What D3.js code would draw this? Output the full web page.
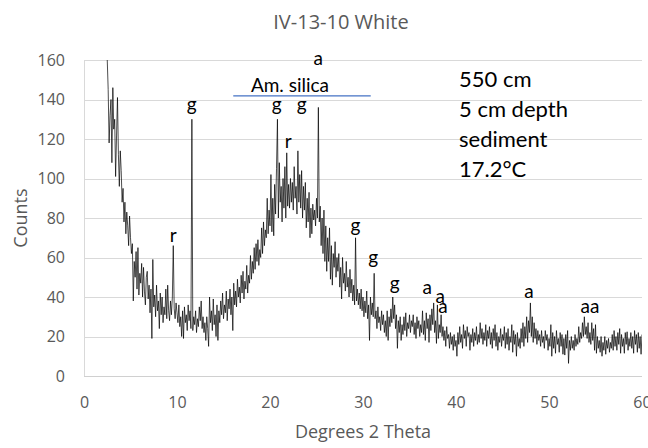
<!DOCTYPE html>
<html><head><meta charset="utf-8">
<script src="https://cdn.jsdelivr.net/npm/d3@7/dist/d3.min.js"></script>
<style>body{margin:0;background:#fff} svg{display:block}</style>
</head><body><svg id="c" width="648" height="448"></svg>
<script>
// ---- data (counts every 0.1 degree 2-theta, starting at 2.4) ----
const thetaStart = 2.4, thetaStep = 0.1;
const counts = [
 200,160,145,118,132,140,108,146,125,130,101,122,141,112,96,114,104,88,95,78,
 88,72,83,76,66,81,70,62,67,38,58,50,63,44,65,41,52,47,57,40,
 55,43,36,50,53,39,46,32,44,19,59,35,41,30,46,33,38,24,42,31,
 40,27,35,31,44,29,46,33,28,38,31,40,66,34,29,37,32,27,36,25,
 30,20,33,19,35,27,31,23,36,28,33,24,130,23,30,26,33,22,29,25,
 35,28,38,24,30,22,27,18,30,24,15,40,27,33,23,39,26,31,20,36,
 18,33,27,38,31,42,29,36,32,43,28,39,34,44,31,40,23,47,36,43,
 35,49,40,45,37,51,42,53,39,48,44,56,42,51,47,61,49,58,52,65,
 54,67,58,69,56,64,60,75,62,78,66,74,70,90,72,84,76,102,73,90,
 71,97,82,105,130,80,108,88,96,78,100,85,106,80,113,86,97,85,100,88,
 98,84,106,90,96,82,114,88,102,85,104,80,96,84,98,75,90,78,93,70,
 85,72,87,79,84,76,90,80,136,78,86,66,80,62,84,58,76,53,70,58,
 75,49,66,46,62,55,68,50,60,53,62,45,55,39,60,47,52,43,58,45,
 50,40,54,42,49,38,46,36,70,38,44,36,42,34,44,33,40,30,38,32,
 43,29,36,18,40,31,37,30,52,29,33,24,35,27,30,23,33,26,31,22,
 28,20,33,18,30,25,34,27,40,29,36,24,31,14,28,22,30,18,26,21,
 30,23,32,20,27,24,31,22,28,25,31,21,27,19,30,24,28,20,26,22,
 33,21,28,18,32,24,29,17,31,23,34,26,37,22,28,16.5,36,19,26,22,
 31,20,25,18,23,15,25,19,21,14,22,16,20,13,21,15,18,10,22,16,
 25,17,21,14,26,19,23,15,25,20,22,13,21,17,24,15,22,18,25,16,
 21,17,27,19,24,16,22,18,26,15,23,19,25,16,22,14,24,18,26,15,
 22,13,20,17,24,15,21,18,25,14,22,16,24,13,20,17,26,12,23,16,
 21,10,22,15,19,14,24,17,27,15,25,19,30,17,28,22,37,20,30,17,
 27,19,24,16,23,18,21,15,23,17,20,14,23,18,21,13,19,15,26,10,
 22,14,20,11.5,23,16,19,12,22,15,21,11,19,10.6,21,14,23,6.4,18,13,
 20,14,18,13,21,15,19,16,25,17,22,19,27,20,30,21,25,19,27,17,
 22,16,27,18,24,13,26,11.5,20,14,18,12,20,10,17,13,20,11,18,14,
 19,12,17,14,21,13,23,15,20,13,22,16,24,11.5,21,15,19,11.5,22,16,
 22.4,13,19,15,22,14,20,11.5,23,16,21,12,22,14,20,11,21
];
const xTicks = [0,10,20,30,40,50,60];
const yTicks = [0,20,40,60,80,100,120,140,160];
const peakLabels = ["r","g","g","g","r","a","g","g","g","a","a","a","a","aa"];
const peakTheta  = [9.6,11.58,20.72,23.4,21.97,25.19,29.2,31.1,33.4,36.9,38.3,38.6,47.85,54.4];
const peakCount  = [67.8,134,134,134,115.4,157.5,72.9,56.7,43.5,41.3,37,31.9,39.5,31.9];
const bandLabel = "Am. silica";
const bandTheta = [16.05, 30.83];
const bandCount = 141.8;
const bandLabelPos = [22.15, 143.6];
const infoLines = ["550 cm","5 cm depth","sediment","17.2°C"];
const title = "IV-13-10 White";
const xTitle = "Degrees 2 Theta";
const yTitle = "Counts";

// ---- chart ----
const svg = d3.select("#c");
const L = 84, R = 642, T = 60, B = 376;
const x = d3.scaleLinear().domain([0,60]).range([L,R]);
const y = d3.scaleLinear().domain([0,160]).range([B,T]);
const gray = "#595959";

// gridlines
svg.append("g").selectAll("line").data(yTicks.filter(d=>d>0)).join("line")
  .attr("x1",L).attr("x2",R).attr("y1",d=>Math.round(y(d))+0.5).attr("y2",d=>Math.round(y(d))+0.5)
  .attr("stroke","#d9d9d9").attr("stroke-width",1);
svg.append("line").attr("x1",L).attr("x2",R).attr("y1",B+0.5).attr("y2",B+0.5).attr("stroke","#d0d0d0");
svg.append("line").attr("x1",L+0.5).attr("x2",L+0.5).attr("y1",T).attr("y2",B).attr("stroke","#d9d9d9");

// axes
const ya = svg.append("g").attr("transform",`translate(${L},0)`)
  .call(d3.axisLeft(y).tickValues(yTicks).tickSize(0).tickPadding(19));
ya.select(".domain").remove();
ya.selectAll("text").attr("font-family","'Open Sans'").attr("font-size",16).attr("fill",gray);
const xa = svg.append("g").attr("transform",`translate(0,${B})`)
  .call(d3.axisBottom(x).tickValues(xTicks).tickSize(0).tickPadding(21));
xa.select(".domain").remove();
xa.selectAll("text").attr("font-family","'Open Sans'").attr("font-size",16).attr("fill",gray);

// clip
svg.append("clipPath").attr("id","pc").append("rect").attr("x",L).attr("y",T).attr("width",R-L).attr("height",B-T);

const data = counts.map((c,i)=>({t: thetaStart + i*thetaStep, c}));
svg.append("path").datum(data).attr("clip-path","url(#pc)")
  .attr("fill","none").attr("stroke","#000").attr("stroke-width",0.7).attr("stroke-linejoin","miter")
  .attr("d", d3.line().x(d=>x(d.t)).y(d=>y(d.c)));

// peak labels
svg.append("g").selectAll("text").data(peakLabels).join("text")
  .attr("x",(d,i)=>x(peakTheta[i])).attr("y",(d,i)=>y(peakCount[i]))
  .attr("text-anchor","middle").attr("font-family","Lato").attr("font-size",19).attr("fill","#000")
  .text(d=>d);

// amorphous silica band
svg.append("line").attr("x1",x(bandTheta[0])).attr("x2",x(bandTheta[1]))
  .attr("y1",y(bandCount)).attr("y2",y(bandCount)).attr("stroke","#4472c4").attr("stroke-width",1.2);
svg.append("text").attr("x",x(bandLabelPos[0])).attr("y",y(bandLabelPos[1]))
  .attr("text-anchor","middle").attr("font-family","Lato").attr("font-size",19).attr("fill","#000").text(bandLabel);

// info block
svg.append("g").selectAll("text").data(infoLines).join("text")
  .attr("x",459).attr("y",(d,i)=>86.7+30*i)
  .attr("font-family","Lato").attr("font-size",22).attr("fill","#000").text(d=>d);

// titles
svg.append("text").attr("x",341).attr("y",29).attr("text-anchor","middle")
  .attr("font-family","'Open Sans'").attr("font-size",20).attr("fill",gray).text(title);
svg.append("text").attr("x",363).attr("y",438).attr("text-anchor","middle")
  .attr("font-family","'Open Sans'").attr("font-size",18).attr("fill",gray).text(xTitle);
svg.append("text").attr("transform","translate(27,218) rotate(-90)").attr("text-anchor","middle")
  .attr("font-family","'Open Sans'").attr("font-size",18).attr("fill",gray).text(yTitle);
</script></body></html>
